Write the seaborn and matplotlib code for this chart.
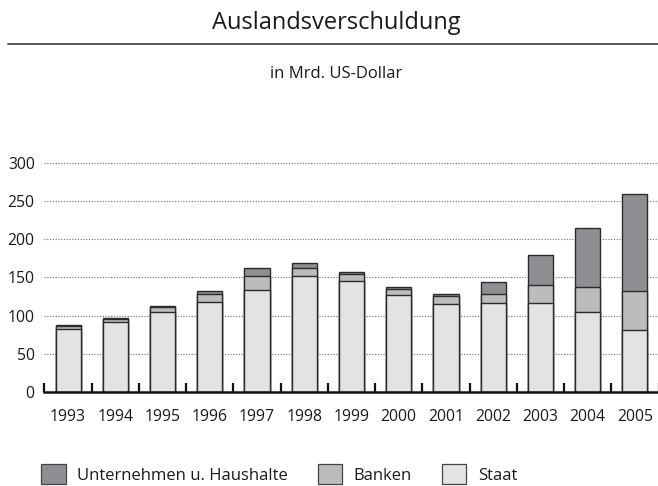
import matplotlib
matplotlib.use("Agg")
import matplotlib.pyplot as plt
import seaborn as sns
import numpy as np
from matplotlib.lines import Line2D
from matplotlib.patches import Patch
from matplotlib.ticker import FixedLocator

years = ["1993", "1994", "1995", "1996", "1997", "1998", "1999",
         "2000", "2001", "2002", "2003", "2004", "2005"]
staat = [83, 92, 105, 118, 134, 152, 146, 127, 115, 116, 117, 105, 82]
banken = [4, 4, 6, 10, 18, 11, 8, 8, 11, 13, 23, 33, 50]
unternehmen = [0.8, 1.2, 1.2, 4, 10, 6, 2.5, 2.5, 3, 15, 40, 76, 127]

series_names = ["Unternehmen u. Haushalte", "Banken", "Staat"]
colors = {"Unternehmen u. Haushalte": "#8e8f93", "Banken": "#bbbcbe", "Staat": "#e2e3e5"}
yticks = [0, 50, 100, 150, 200, 250, 300]

sns.set_style("white")
plt.rcParams['font.family'] = ['Open Sans', 'DejaVu Sans']

fig = plt.figure(figsize=(6.58, 4.86), dpi=100)
ax = fig.add_axes([0.0675, 0.1928, 0.9334, 0.4883])

s = np.array(staat, float)
b = np.array(banken, float)
u = np.array(unternehmen, float)
layers = [("Unternehmen u. Haushalte", s + b + u), ("Banken", s + b), ("Staat", s)]
edge = "#2b2b2b"
for name, vals in layers:
    sns.barplot(x=years, y=vals, color=colors[name], saturation=1, width=0.53,
                edgecolor=edge, linewidth=1.0, ax=ax, zorder=3)

ax.set_xlim(-0.5, 12.5)
ax.set_ylim(0, 310)
ax.set_yticks(yticks)
ax.set_yticklabels([str(t) for t in yticks])
ax.set_axisbelow(True)
for t in yticks[1:]:
    ax.axhline(t, color="#6a6a6a", lw=0.8, ls=(0, (1, 1.5)), zorder=0)

for sp in ["top", "right", "left"]:
    ax.spines[sp].set_visible(False)
ax.spines["bottom"].set_linewidth(1.8)
ax.spines["bottom"].set_color("#111111")
ax.spines["bottom"].set_zorder(5)

ax.xaxis.set_minor_locator(FixedLocator(np.arange(-0.5, 13, 1.0)))
ax.tick_params(axis="x", which="both", bottom=True)
ax.tick_params(axis="x", which="minor", direction="in", length=6.5, width=1.6, color="#111111")
ax.tick_params(axis="x", which="major", length=0, pad=12, labelsize=11.3, labelcolor="#1a1a1a")
ax.tick_params(axis="y", length=0, pad=7, labelsize=11.3, labelcolor="#1a1a1a")
ax.set_xlabel("")
ax.set_ylabel("")
ax.grid(False)

fig.text(0.511, 1 - 23 / 486, "Auslandsverschuldung", ha="center", va="center", fontsize=17, color="#1a1a1a")
fig.add_artist(Line2D([8 / 658, 1.0], [1 - 44.5 / 486, 1 - 44.5 / 486], color="#555555", lw=1.4,
                      transform=fig.transFigure))
fig.text(0.511, 1 - 74 / 486, "in Mrd. US-Dollar", ha="center", va="center", fontsize=12, color="#1a1a1a")

handles = [Patch(facecolor=colors[n], edgecolor="#444444", linewidth=0.9, label=n) for n in series_names]
fig.legend(handles=handles, loc="center left", bbox_to_anchor=(0.063, 1 - 474 / 486), ncol=3,
           frameon=False, fontsize=12, handlelength=1.45, handleheight=1.45, handletextpad=0.7,
           columnspacing=1.8, borderaxespad=0, borderpad=0, labelcolor="#1a1a1a")

fig.savefig("out.png", dpi=100)
